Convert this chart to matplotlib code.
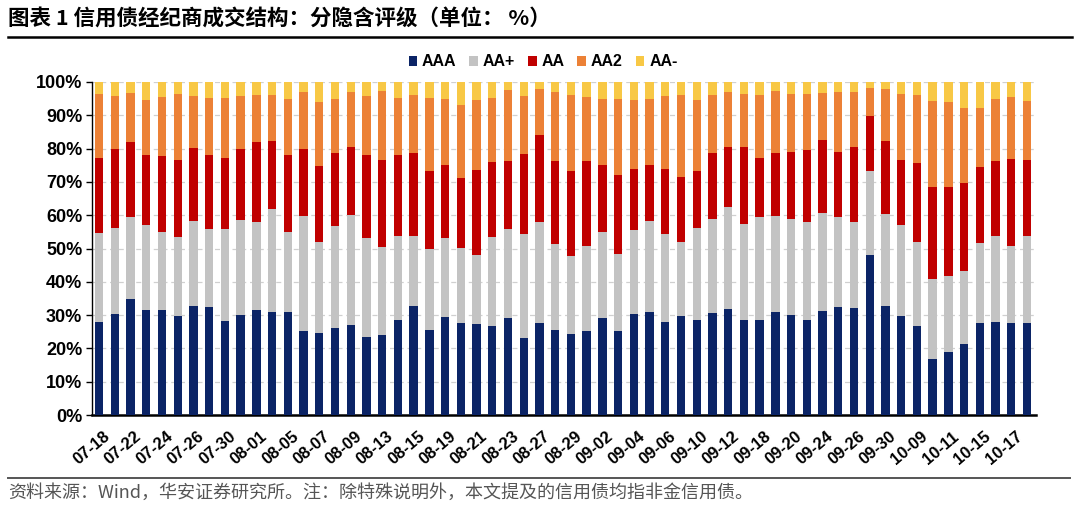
import numpy as np
import matplotlib
matplotlib.use("Agg")
import matplotlib.pyplot as plt
import matplotlib.transforms as mtransforms
from matplotlib.lines import Line2D
from matplotlib.patches import Patch

plt.rcParams['font.family'] = ['Liberation Sans', 'Noto Sans CJK SC', 'DejaVu Sans']

# x labels shown on every other bar
dates = ["07-18", "07-19", "07-22", "07-23", "07-24", "07-25", "07-26", "07-29",
         "07-30", "07-31", "08-01", "08-02", "08-05", "08-06", "08-07", "08-08",
         "08-09", "08-12", "08-13", "08-14", "08-15", "08-16", "08-19", "08-20",
         "08-21", "08-22", "08-23", "08-26", "08-27", "08-28", "08-29", "08-30",
         "09-02", "09-03", "09-04", "09-05", "09-06", "09-09", "09-10", "09-11",
         "09-12", "09-13", "09-18", "09-19", "09-20", "09-23", "09-24", "09-25",
         "09-26", "09-27", "09-30", "10-08", "10-09", "10-10", "10-11", "10-14",
         "10-15", "10-16", "10-17", "10-18"]

# cumulative tops (%)
top_aaa = [27.8, 30.4, 34.9, 31.4, 31.6, 29.8, 32.8, 32.3, 28.1, 30.0,
           31.6, 31.0, 30.9, 25.2, 24.7, 26.1, 27.0, 23.5, 24.0, 28.6,
           32.6, 25.6, 29.3, 27.6, 27.3, 26.8, 29.0, 23.0, 27.6, 25.6,
           24.3, 25.2, 29.1, 25.2, 30.4, 31.0, 27.9, 29.6, 28.5, 30.6,
           31.9, 28.6, 28.6, 30.8, 30.0, 28.6, 31.2, 32.5, 32.0, 48.1,
           32.6, 29.6, 26.8, 16.7, 19.0, 21.2, 27.6, 27.9, 27.6, 27.6]
top_aap = [54.8, 56.1, 59.6, 57.1, 54.9, 53.6, 58.4, 55.8, 56.0, 58.6,
           58.1, 61.9, 55.1, 59.8, 51.9, 56.9, 60.1, 53.3, 50.6, 53.9,
           53.8, 49.8, 53.3, 50.3, 48.1, 53.4, 56.0, 54.5, 57.9, 51.4,
           47.6, 50.8, 55.1, 48.3, 55.5, 58.3, 54.5, 51.9, 56.1, 59.0,
           62.6, 57.4, 59.6, 59.9, 58.8, 57.9, 60.6, 59.6, 58.1, 73.3,
           60.4, 57.1, 51.9, 40.9, 41.6, 43.1, 51.8, 53.9, 50.9, 53.9]
top_aa = [77.2, 80.0, 82.0, 78.0, 77.9, 76.7, 80.1, 78.0, 77.2, 79.9,
          82.0, 82.2, 78.2, 80.0, 74.8, 78.7, 80.4, 78.2, 76.7, 78.2,
          78.7, 73.4, 75.2, 71.3, 73.6, 76.1, 76.4, 78.5, 84.0, 76.4,
          73.3, 76.4, 75.2, 72.0, 73.8, 75.1, 74.0, 71.4, 73.4, 78.7,
          80.5, 80.4, 77.2, 78.7, 78.9, 79.5, 82.5, 78.9, 80.5, 89.7,
          82.2, 76.7, 75.7, 68.4, 68.6, 69.8, 74.6, 76.2, 77.0, 76.7]
top_aa2 = [96.4, 95.7, 96.7, 94.7, 95.5, 96.4, 95.8, 95.1, 95.1, 95.9,
           96.0, 96.2, 95.0, 96.9, 94.1, 94.9, 96.9, 95.7, 97.4, 95.1,
           96.2, 95.3, 95.0, 93.2, 94.7, 95.2, 97.5, 95.7, 97.8, 96.9,
           96.1, 95.4, 95.0, 94.9, 94.5, 94.8, 95.9, 96.0, 94.7, 96.0,
           96.9, 96.5, 96.0, 97.2, 96.4, 96.4, 96.6, 97.1, 97.0, 98.1,
           97.9, 96.4, 96.2, 94.3, 94.1, 92.1, 92.3, 95.0, 95.4, 94.3]

labels = ["AAA", "AA+", "AA", "AA2", "AA-"]
colors = ["#0B2466", "#C3C3C3", "#C00000", "#EC8136", "#F8C845"]

aaa = np.array(top_aaa)
aap = np.array(top_aap) - aaa
aa = np.array(top_aa) - np.array(top_aap)
aa2 = np.array(top_aa2) - np.array(top_aa)
aam = 100 - np.array(top_aa2)
series = [aaa, aap, aa, aa2, aam]

fig = plt.figure(figsize=(10.8, 5.13), dpi=100)
ax = fig.add_axes([92 / 1080, 1 - 415 / 513, (1036 - 92) / 1080, (415 - 82) / 513])

x = np.arange(len(dates))
bottom = np.zeros(len(dates))
for vals, c, lab in zip(series, colors, labels):
    ax.bar(x, vals, bottom=bottom, width=0.53, color=c, label=lab, zorder=3)
    bottom += vals

ax.set_xlim(-0.45, len(dates) - 0.43)
ax.set_ylim(0, 100)
ax.set_yticks(np.arange(0, 101, 10))
ax.set_yticklabels(["{}%".format(v) for v in range(0, 101, 10)],
                   fontsize=13, fontweight="bold")
ax.set_xticks(x[::2])
ax.set_xticklabels(dates[::2], rotation=40, ha="right", rotation_mode="anchor",
                   fontsize=12, fontweight="bold")
ax.tick_params(axis="x", length=0, pad=10)
ax.tick_params(axis="y", length=4, width=1, direction="out", pad=3)
# nudge rotated date labels a little to the right, like the original
shift = mtransforms.ScaledTranslation(4 / 100, 0, fig.dpi_scale_trans)
for lbl in ax.get_xticklabels():
    lbl.set_transform(lbl.get_transform() + shift)
ax.yaxis.grid(True, linestyle=(0, (4, 3)), color="#D0D0D0", linewidth=0.9, zorder=0)
ax.set_axisbelow(True)
for s in ["top", "right"]:
    ax.spines[s].set_visible(False)
ax.spines["left"].set_linewidth(1.0)
ax.spines["bottom"].set_linewidth(1.8)

handles = [Patch(facecolor=c, edgecolor="none") for c in colors]
fig.legend(handles, labels, loc="center", bbox_to_anchor=(543 / 1080, 1 - 62 / 513),
           ncol=5, frameon=False, handlelength=0.55, handleheight=0.55,
           handletextpad=0.3, columnspacing=0.8,
           prop={"weight": "bold", "size": 11.5})

# title and footer
fig.text(8 / 1080, 1 - 19 / 513, "图表 1 信用债经纪商成交结构：分隐含评级（单位： %）",
         fontsize=15.5, fontweight="bold", va="center", ha="left",
         family=["Noto Sans CJK SC", "DejaVu Sans"])
fig.add_artist(Line2D([8 / 1080, 1072 / 1080], [1 - 37 / 513, 1 - 37 / 513],
                      color="black", linewidth=1.8))
fig.add_artist(Line2D([8 / 1080, 1070 / 1080], [1 - 478 / 513, 1 - 478 / 513],
                      color="#555555", linewidth=1.4))
fig.text(8 / 1080, 1 - 493 / 513,
         "资料来源：Wind，华安证券研究所。注：除特殊说明外，本文提及的信用债均指非金信用债。",
         fontsize=13, color="#555555", va="center", ha="left",
         family=["Noto Sans CJK SC", "DejaVu Sans"])

fig.savefig("out.png", dpi=100)
